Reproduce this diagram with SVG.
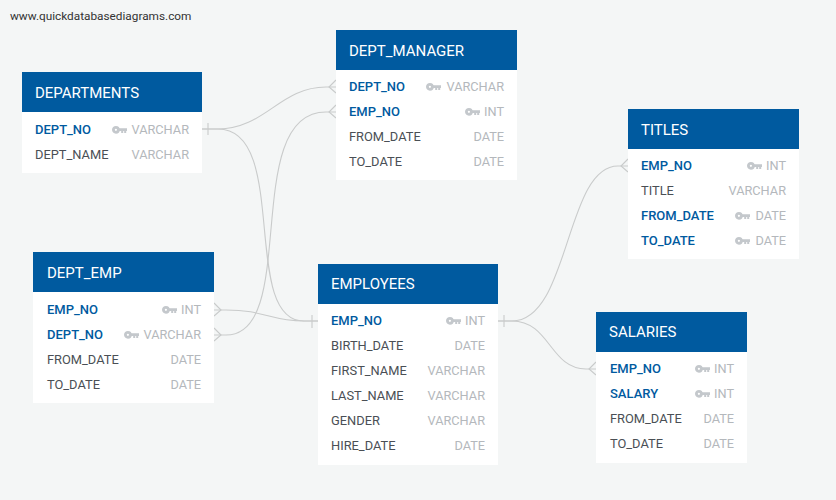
<svg xmlns="http://www.w3.org/2000/svg" xmlns:xlink="http://www.w3.org/1999/xlink" width="836" height="500" viewBox="0 0 836 500">
<style>
text{font-family:Roboto,"Liberation Sans",sans-serif}
.body{fill:#fff}
.head{fill:#005a9f}
.title{fill:#fff;font-size:15px}
.k{fill:#005a9f;font-size:13px;font-weight:500}
.n{fill:#4a4f55;font-size:12.85px}
.t{fill:#b4b8bc;font-size:12.75px;text-anchor:end}
.c{fill:none;stroke:#c9cbcb;stroke-width:1.1}
.brand{fill:#333;font-size:11.8px}
</style>
<defs>
<g id="key"><g transform="translate(0,2)"><circle cx="3.9" cy="3.8" r="2.5" fill="none" stroke="#c4c8cc" stroke-width="2.8"/><path d="M7 2.2H15V5.1H14.2V7H12.2V5.1H11.2V7H9.2V5.1H7Z" fill="#c4c8cc"/></g></g>
</defs>
<rect width="836" height="500" fill="#f4f6f6"/>
<text class="brand" x="10" y="20">www.quickdatabasediagrams.com</text>
<g id="connectors">
<path class="c" d="M202 129H218C265 129 280 87 326 87H336"/>
<path class="c" d="M202 129H218C290 129 240 321 304 321H318"/>
<path class="c" d="M214 335H226C300 335 240 112 326 112H336"/>
<path class="c" d="M214 310H226C265 310 270 321 304 321H318"/>
<path class="c" d="M498 321H512C570 321 565 166 618 166H628"/>
<path class="c" d="M498 321H512C550 321 550 369 586 369H596"/>
<path class="c" d="M208 123V135M312 315V328M504 315V327"/>
<path class="c" d="M336 80L329 87L336 93M336 105L329 112L336 118M628 159L621 166L628 172M596 362L589 369L596 375M214 303L221 310L214 316M214 328L221 335L214 341"/>
</g>
<g id="departments">
<rect class="body" x="22" y="72" width="180" height="101"/><rect class="head" x="22" y="72" width="180" height="40"/>
<text class="title" x="35" y="98">DEPARTMENTS</text>
<text class="k" x="35" y="134">DEPT_NO</text><use xlink:href="#key" href="#key" x="112" y="124"/><text class="t" x="189" y="134">VARCHAR</text>
<text class="n" x="35" y="159">DEPT_NAME</text><text class="t" x="189" y="159">VARCHAR</text>
</g>
<g id="dept_manager">
<rect class="body" x="336" y="30" width="181" height="150"/><rect class="head" x="336" y="30" width="181" height="40"/>
<text class="title" x="349" y="56">DEPT_MANAGER</text>
<text class="k" x="349" y="91">DEPT_NO</text><use xlink:href="#key" href="#key" x="426" y="81"/><text class="t" x="504" y="91">VARCHAR</text>
<text class="k" x="349" y="116">EMP_NO</text><use xlink:href="#key" href="#key" x="465" y="106"/><text class="t" x="504" y="116">INT</text>
<text class="n" x="349" y="141">FROM_DATE</text><text class="t" x="504" y="141">DATE</text>
<text class="n" x="349" y="166">TO_DATE</text><text class="t" x="504" y="166">DATE</text>
</g>
<g id="titles">
<rect class="body" x="628" y="109" width="171" height="150"/><rect class="head" x="628" y="109" width="171" height="40"/>
<text class="title" x="641" y="135">TITLES</text>
<text class="k" x="641" y="170">EMP_NO</text><use xlink:href="#key" href="#key" x="747" y="160"/><text class="t" x="786" y="170">INT</text>
<text class="n" x="641" y="195">TITLE</text><text class="t" x="786" y="195">VARCHAR</text>
<text class="k" x="641" y="220">FROM_DATE</text><use xlink:href="#key" href="#key" x="735" y="210"/><text class="t" x="786" y="220">DATE</text>
<text class="k" x="641" y="245">TO_DATE</text><use xlink:href="#key" href="#key" x="735" y="235"/><text class="t" x="786" y="245">DATE</text>
</g>
<g id="dept_emp">
<rect class="body" x="33" y="252" width="181" height="151"/><rect class="head" x="33" y="252" width="181" height="40"/>
<text class="title" x="47" y="278">DEPT_EMP</text>
<text class="k" x="47" y="314">EMP_NO</text><use xlink:href="#key" href="#key" x="162" y="304"/><text class="t" x="201" y="314">INT</text>
<text class="k" x="47" y="339">DEPT_NO</text><use xlink:href="#key" href="#key" x="124" y="329"/><text class="t" x="201" y="339">VARCHAR</text>
<text class="n" x="47" y="364">FROM_DATE</text><text class="t" x="201" y="364">DATE</text>
<text class="n" x="47" y="389">TO_DATE</text><text class="t" x="201" y="389">DATE</text>
</g>
<g id="employees">
<rect class="body" x="318" y="264" width="180" height="201"/><rect class="head" x="318" y="264" width="180" height="40"/>
<text class="title" x="331" y="289">EMPLOYEES</text>
<text class="k" x="331" y="325">EMP_NO</text><use xlink:href="#key" href="#key" x="446" y="315"/><text class="t" x="485" y="325">INT</text>
<text class="n" x="331" y="350">BIRTH_DATE</text><text class="t" x="485" y="350">DATE</text>
<text class="n" x="331" y="375">FIRST_NAME</text><text class="t" x="485" y="375">VARCHAR</text>
<text class="n" x="331" y="400">LAST_NAME</text><text class="t" x="485" y="400">VARCHAR</text>
<text class="n" x="331" y="425">GENDER</text><text class="t" x="485" y="425">VARCHAR</text>
<text class="n" x="331" y="450">HIRE_DATE</text><text class="t" x="485" y="450">DATE</text>
</g>
<g id="salaries">
<rect class="body" x="596" y="312" width="151" height="151"/><rect class="head" x="596" y="312" width="151" height="40"/>
<text class="title" x="609" y="337">SALARIES</text>
<text class="k" x="610" y="373">EMP_NO</text><use xlink:href="#key" href="#key" x="695" y="363"/><text class="t" x="734" y="373">INT</text>
<text class="k" x="610" y="398">SALARY</text><use xlink:href="#key" href="#key" x="695" y="388"/><text class="t" x="734" y="398">INT</text>
<text class="n" x="610" y="423">FROM_DATE</text><text class="t" x="734" y="423">DATE</text>
<text class="n" x="610" y="448">TO_DATE</text><text class="t" x="734" y="448">DATE</text>
</g>
</svg>
